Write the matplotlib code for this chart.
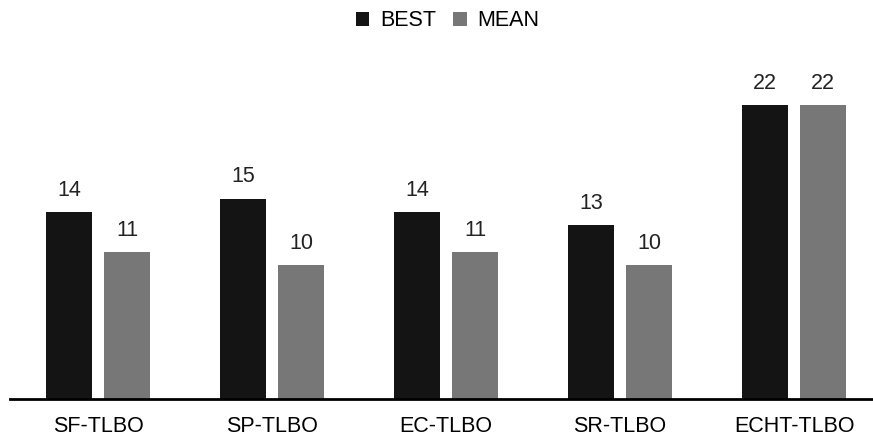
import numpy as np
import matplotlib.pyplot as plt

plt.rcParams['font.family'] = ['Liberation Sans', 'DejaVu Sans']

methods = ['SF-TLBO', 'SP-TLBO', 'EC-TLBO', 'SR-TLBO', 'ECHT-TLBO']
best = [14, 15, 14, 13, 22]
mean = [11, 10, 11, 10, 22]

x = np.arange(len(methods))
w = 0.264
off = 0.167

fig = plt.figure(figsize=(8.73, 4.44), dpi=100)
ax = fig.add_axes([0.0115, 0.101, 0.9885, 0.723])

b1 = ax.bar(x - off, best, w, color='#141414', label='BEST')
b2 = ax.bar(x + off, mean, w, color='#777777', label='MEAN')

# value labels above each bar
for bars, vals in ((b1, best), (b2, mean)):
    for r, v in zip(bars, vals):
        ax.annotate(str(v), (r.get_x() + r.get_width() / 2, v),
                    xytext=(0, 8), textcoords='offset points',
                    ha='center', va='bottom', fontsize=15.5, color='#222222')

ax.set_xlim(-0.506, 4.454)
ax.set_ylim(0, 24)
ax.set_yticks([])
ax.set_xticks(x)
ax.set_xticklabels(methods, fontsize=15.5)
ax.tick_params(axis='x', length=0, pad=12)
for s in ('top', 'right', 'left'):
    ax.spines[s].set_visible(False)
ax.spines['bottom'].set_linewidth(2)
ax.spines['bottom'].set_color('black')

fig.legend(loc='upper center', bbox_to_anchor=(0.513, 1.02), ncol=2,
           frameon=False, fontsize=15.5, handlelength=0.62, handleheight=0.62,
           handletextpad=0.5, columnspacing=0.8)

fig.savefig('out.png', dpi=100)
